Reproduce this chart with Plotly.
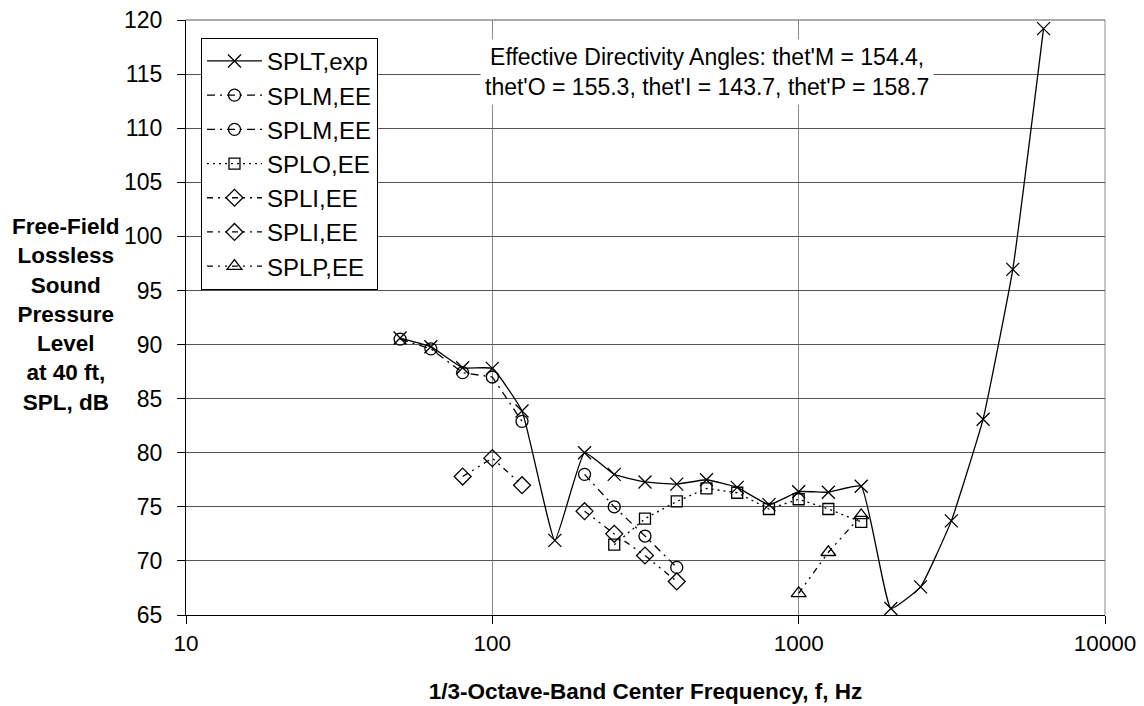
import plotly.graph_objects as go

# ---- data ----
freq_T = [50, 63, 80, 100, 125, 160, 200, 250, 315, 400, 500, 630, 800, 1000, 1250, 1600, 2000, 2500, 3150, 4000, 5000, 6300]
spl_T = [90.6, 89.8, 87.85, 87.8, 83.85, 71.9, 80.0, 78.0, 77.3, 77.1, 77.5, 76.8, 75.2, 76.4, 76.35, 76.9, 65.6, 67.6, 73.7, 83.1, 96.95, 119.2]

freq_M1 = [50, 63, 80, 100, 125]
spl_M1 = [90.5, 89.6, 87.4, 87.0, 82.9]
freq_M2 = [200, 250, 315, 400]
spl_M2 = [78.0, 75.0, 72.3, 69.4]

freq_O = [250, 315, 400, 500, 630, 800, 1000, 1250, 1600]
spl_O = [71.5, 73.9, 75.5, 76.7, 76.3, 74.8, 75.7, 74.8, 73.6]

freq_I1 = [80, 100, 125]
spl_I1 = [77.8, 79.5, 77.0]
freq_I2 = [200, 250, 315, 400]
spl_I2 = [74.6, 72.5, 70.5, 68.1]

freq_P = [1000, 1250, 1600]
spl_P = [67.0, 70.8, 74.2]

x_ticks = [10, 100, 1000, 10000]
x_ticktext = ["10", "100", "1000", "10000"]
y_ticks = list(range(65, 121, 5))

annotation_text = "Effective Directivity Angles: thet'M = 154.4,<br>thet'O = 155.3, thet'I = 143.7, thet'P = 158.7"
y_title = "<b>Free-Field<br>Lossless<br>Sound<br>Pressure<br>Level<br>at 40 ft,<br>SPL, dB</b>"
x_title = "<b>1/3-Octave-Band Center Frequency, f, Hz</b>"

FONT = "Arial, Liberation Sans, sans-serif"
BLACK = "black"

fig = go.Figure()

def add(x, y, name, symbol, size, dash, shape="linear", smoothing=None):
    line = dict(color=BLACK, width=1.3, dash=dash, shape=shape)
    if smoothing is not None:
        line["smoothing"] = smoothing
    fig.add_trace(go.Scatter(
        x=x, y=y, name=name, mode="lines+markers",
        line=line,
        marker=dict(symbol=symbol, size=size, color=BLACK,
                    line=dict(color=BLACK, width=1.3)),
    ))

add(freq_T, spl_T, "SPLT,exp", "x-thin", 13, "solid", shape="spline", smoothing=0.35)
add(freq_M1, spl_M1, "SPLM,EE", "circle-open", 12, "8px,5px,2px,5px")
add(freq_M2, spl_M2, "SPLM,EE", "circle-open", 12, "8px,5px,2px,5px")
add(freq_O, spl_O, "SPLO,EE", "square-open", 11, "2px,4px")
add(freq_I1, spl_I1, "SPLI,EE", "diamond-open", 13, "6px,5px,2px,5px,2px,5px")
add(freq_I2, spl_I2, "SPLI,EE", "diamond-open", 13, "6px,5px,2px,5px,2px,5px")
add(freq_P, spl_P, "SPLP,EE", "triangle-up-open", 13, "6px,5px,2px,5px,2px,5px")

fig.update_layout(
    width=1144, height=706,
    margin=dict(l=186, r=39, t=20, b=91),
    paper_bgcolor="white", plot_bgcolor="white",
    font=dict(family=FONT, size=23, color=BLACK),
    showlegend=True,
    legend=dict(
        x=0.0163, y=0.97, xanchor="left", yanchor="top",
        bgcolor="white", bordercolor=BLACK, borderwidth=1,
        font=dict(family=FONT, size=24, color=BLACK),
        itemwidth=55,
    ),
    xaxis=dict(
        type="log", range=[1, 4],
        tickvals=x_ticks, ticktext=x_ticktext,
        showgrid=True, gridcolor="#8a8a8a", gridwidth=1,
        showline=True, linecolor=BLACK, linewidth=1,
        ticks="outside", ticklen=8, tickcolor=BLACK,
        tickfont=dict(family=FONT, size=22.5, color=BLACK),
        zeroline=False, automargin=False,
        title=dict(text=x_title, font=dict(family=FONT, size=22.5, color=BLACK), standoff=28),
    ),
    yaxis=dict(
        range=[65, 120], tickvals=y_ticks,
        showgrid=True, gridcolor="#555555", gridwidth=1,
        showline=True, linecolor=BLACK, linewidth=1,
        ticks="outside", ticklen=8, tickcolor=BLACK,
        tickfont=dict(family=FONT, size=23, color=BLACK),
        ticklabelstandoff=10,
        zeroline=False, automargin=False,
    ),
    annotations=[
        dict(text=annotation_text, xref="paper", yref="paper",
             x=0.567, y=0.912, xanchor="center", yanchor="middle",
             showarrow=False, bgcolor="white", borderpad=4,
             font=dict(family=FONT, size=23, color=BLACK), align="center"),
        dict(text=y_title, xref="paper", yref="paper",
             x=-0.1305, y=0.505, xanchor="center", yanchor="middle",
             showarrow=False, font=dict(family=FONT, size=22.5, color=BLACK),
             align="center"),
    ],
    shapes=[
        dict(type="line", xref="paper", yref="paper", x0=1, x1=1, y0=0, y1=1,
             line=dict(color="#8a8a8a", width=1), layer="below"),
        dict(type="line", xref="paper", yref="paper", x0=0, x1=1, y0=1, y1=1,
             line=dict(color="#555555", width=1), layer="below"),
    ],
)

fig.write_html("out.html")
